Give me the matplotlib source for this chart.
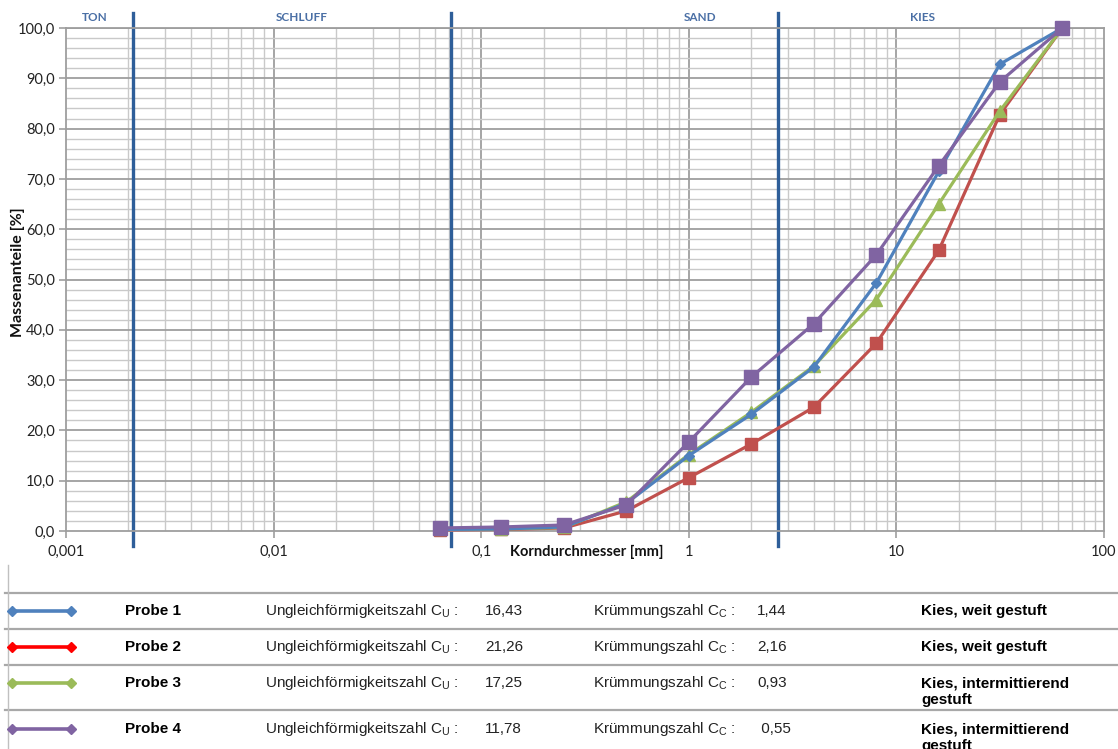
import matplotlib
matplotlib.use("Agg")
import matplotlib.pyplot as plt
from matplotlib.lines import Line2D
import numpy as np

# ---------------- data ----------------
sieve_mm = [0.063, 0.125, 0.25, 0.5, 1, 2, 4, 8, 16, 31.5, 63]
probe1 = [0.3, 0.4, 0.8, 5.5, 15.0, 23.2, 32.6, 49.3, 71.5, 92.8, 100.0]
probe2 = [0.2, 0.3, 0.6, 4.0, 10.6, 17.3, 24.6, 37.3, 55.8, 82.8, 100.0]
probe3 = [0.3, 0.4, 0.7, 5.8, 15.2, 23.6, 32.8, 46.0, 65.0, 83.5, 100.0]
probe4 = [0.6, 0.8, 1.2, 5.2, 17.7, 30.6, 41.2, 54.9, 72.6, 89.3, 100.0]

boundaries_mm = [0.0021, 0.0714, 2.69]
region_names = ["TON", "SCHLUFF", "SAND", "KIES"]
region_x_mm = [0.00138, 0.0136, 1.13, 13.3]

xtick_vals = [0.001, 0.01, 0.1, 1, 10, 100]
xtick_labels = ["0,001", "0,01", "0,1", "1", "10", "100"]
ytick_vals = list(range(0, 101, 10))

probe_names = ["Probe 1", "Probe 2", "Probe 3", "Probe 4"]
cu_values = ["16,43", "21,26", "17,25", "11,78"]
cc_values = ["1,44", "2,16", "0,93", " 0,55"]
classes = ["Kies, weit gestuft", "Kies, weit gestuft",
           "Kies, intermittierend\ngestuft", "Kies, intermittierend\ngestuft"]

line_colors = ["#4F81BD", "#C0504D", "#9BBB59", "#8064A2"]
legend_colors = ["#4F81BD", "#FF0000", "#9BBB59", "#8064A2"]

# ---------------- figure ----------------
W, H = 1118, 749
plt.rcParams['mathtext.fontset'] = 'custom'
plt.rcParams['mathtext.rm'] = 'Liberation Sans'
plt.rcParams['mathtext.it'] = 'Liberation Sans:italic'
plt.rcParams['mathtext.bf'] = 'Liberation Sans:bold'

fig = plt.figure(figsize=(W / 100, H / 100), dpi=100)
fig.patch.set_facecolor("white")

def fx(px):
    return px / W

def fy(py):
    return 1 - py / H

ax_l, ax_r, ax_t, ax_b = 66, 1104, 28, 531
ax = fig.add_axes([fx(ax_l), fy(ax_b), fx(ax_r - ax_l), (ax_b - ax_t) / H])
ax.set_xscale("log")
ax.set_xlim(0.001, 100)
ax.set_ylim(0, 100)

# grid
minor_c = "#C9C9C9"
major_c = "#9E9E9E"
for dec in [0.001, 0.01, 0.1, 1, 10]:
    for m in range(2, 10):
        ax.axvline(dec * m, color=minor_c, lw=1.0, zorder=1)
for v in xtick_vals[1:-1]:
    ax.axvline(v, color=major_c, lw=1.3, zorder=1)
for yv in range(0, 101, 2):
    if yv % 10:
        ax.axhline(yv, color=minor_c, lw=1.0, zorder=1)
for yv in ytick_vals[1:]:
    ax.axhline(yv, color=major_c, lw=1.3, zorder=1)

for s in ax.spines.values():
    s.set_color(major_c)
    s.set_linewidth(1.3)

ax.set_xticks(xtick_vals)
ax.set_xticklabels(xtick_labels)
ax.xaxis.set_minor_locator(matplotlib.ticker.NullLocator())
ax.set_yticks(ytick_vals)
ax.set_yticklabels([f"{v:.1f}".replace(".", ",") for v in ytick_vals])
ax.tick_params(axis="both", colors=major_c, length=5, width=1.2, labelcolor="#222222",
               labelsize=10.5)
ax.tick_params(axis="x", pad=5)
ax.tick_params(axis="y", pad=3)
for lab in ax.get_xticklabels() + ax.get_yticklabels():
    lab.set_family("Lato")

# boundaries
for b in boundaries_mm:
    ax.axvline(b, ymin=-0.03, ymax=1.03, color="#2E5E99", lw=2.4, zorder=2, clip_on=False)

# region names
for name, xm in zip(region_names, region_x_mm):
    ax.text(xm, 102.1, name, ha="center", va="center", fontsize=8.5, fontweight="bold",
            color="#4A6FA5", family="Lato", clip_on=False)

# series
ax.plot(sieve_mm, probe2, color=line_colors[1], lw=2.3, marker="s", ms=8.5, zorder=4, clip_on=False)
ax.plot(sieve_mm, probe3, color=line_colors[2], lw=2.3, marker="^", ms=8, zorder=5, clip_on=False)
ax.plot(sieve_mm, probe1, color=line_colors[0], lw=2.3, marker="D", ms=5.5, zorder=6, clip_on=False)
ax.plot(sieve_mm, probe4, color=line_colors[3], lw=2.3, marker="s", ms=9.5, zorder=7, clip_on=False)

# axis labels
fig.text(fx(510), fy(552), "Korndurchmesser [mm]", ha="left", va="center",
         fontsize=10.5, fontweight="bold", family="Lato", color="#111111")
fig.text(fx(18), fy(272), "Massenanteile [%]", ha="center", va="center", rotation=90,
         fontsize=11.5, fontweight="bold", family="Lato", color="#111111")

# ---------------- table ----------------
tbl_c = "#A8A8A8"
for py in [593, 629, 665, 710]:
    fig.add_artist(Line2D([fx(5), fx(1118)], [fy(py), fy(py)], color=tbl_c, lw=1.6))
fig.add_artist(Line2D([fx(8), fx(8)], [fy(565), fy(749)], color="#C0C0C0", lw=1.0))

row_y = [611, 647, 683, 729]
tf = "Liberation Sans"
fs = 11
for i in range(4):
    y = fy(row_y[i])
    fig.add_artist(Line2D([fx(12), fx(71)], [y, y], color=legend_colors[i], lw=2.6,
                          marker="D", ms=5, markevery=[0, 1]))
    fig.text(fx(125), y, probe_names[i], ha="left", va="center", fontsize=fs,
             fontweight="bold", family=tf)
    fig.text(fx(265), y, r"Ungleichförmigkeitszahl C$_\mathrm{U}$ :", ha="left", va="center",
             fontsize=fs, family=tf, color="#222222")
    fig.text(fx(485), y, cu_values[i], ha="left", va="center", fontsize=fs, family=tf,
             color="#222222")
    fig.text(fx(593), y, r"Krümmungszahl C$_\mathrm{C}$ :", ha="left", va="center",
             fontsize=fs, family=tf, color="#222222")
    fig.text(fx(757), y, cc_values[i], ha="left", va="center", fontsize=fs, family=tf,
             color="#222222")
    cl = classes[i].split("\n")
    fig.text(fx(921), y, cl[0], ha="left", va="center", fontsize=fs, fontweight="bold",
             family=tf)
    if len(cl) > 1:
        fig.text(fx(921), y - 17 / H, cl[1], ha="left", va="center", fontsize=fs,
                 fontweight="bold", family=tf)

fig.savefig("out.png", dpi=100)
